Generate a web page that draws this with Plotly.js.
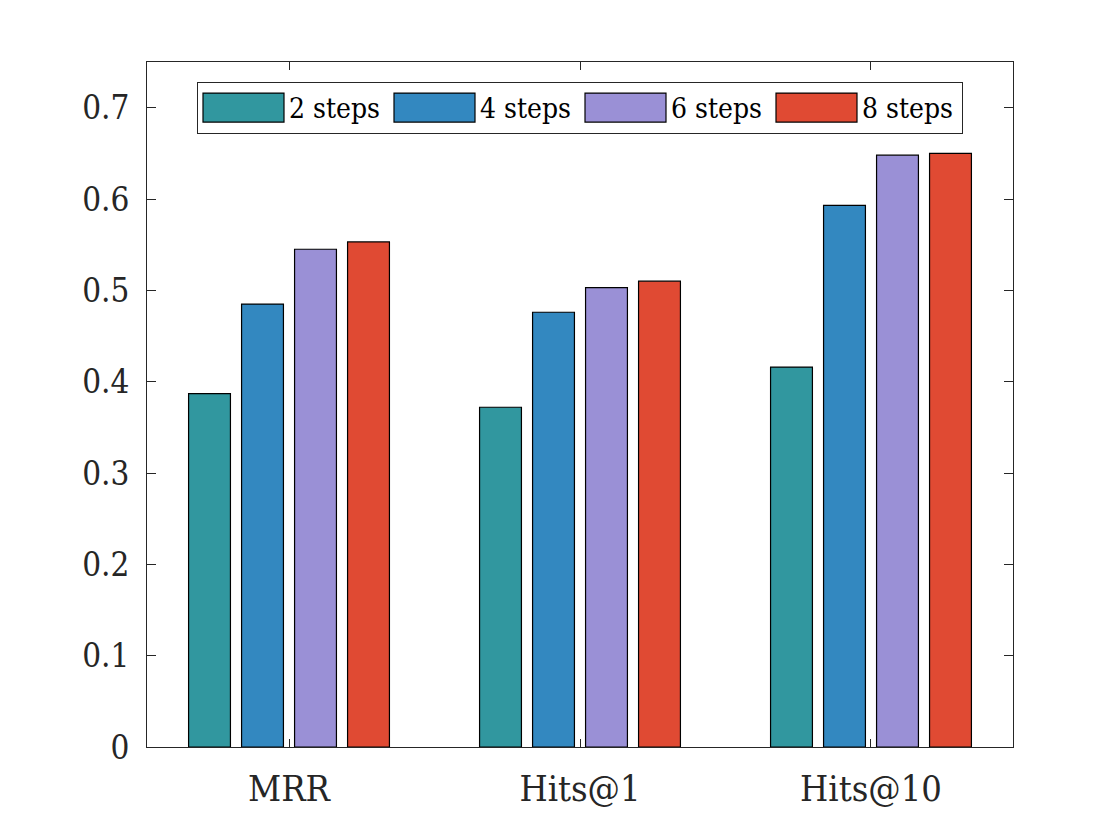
<!DOCTYPE html>
<html>
<head>
<meta charset="utf-8">
<script src="https://cdn.plot.ly/plotly-3.0.1.min.js"></script>
<style>html,body{margin:0;padding:0;background:#fff;}#chart{width:1120px;height:840px;}</style>
</head>
<body>
<div id="chart"></div>
<script>
const categories = ["MRR", "Hits@1", "Hits@10"];
const seriesNames = ["2 steps", "4 steps", "6 steps", "8 steps"];
const steps2 = [0.387, 0.372, 0.416];
const steps4 = [0.485, 0.476, 0.593];
const steps6 = [0.545, 0.503, 0.648];
const steps8 = [0.553, 0.510, 0.650];
const yTicks = [0, 0.1, 0.2, 0.3, 0.4, 0.5, 0.6, 0.7];
const yTickText = ["0", "0.1", "0.2", "0.3", "0.4", "0.5", "0.6", "0.7"];
const colors = ["#31979f", "#3388c0", "#9a90d6", "#e04a33"];

const allSeries = [steps2, steps4, steps6, steps8];
const traces = allSeries.map((vals, i) => ({
  type: "bar",
  name: seriesNames[i],
  x: categories,
  y: vals,
  marker: { color: colors[i], line: { color: "#000", width: 1.2 } },
  hoverinfo: "y+name"
}));

const serif = "DejaVu Serif Condensed";

const layout = {
  width: 1120, height: 840,
  margin: { l: 147, r: 107, t: 62, b: 93 },
  paper_bgcolor: "#fff", plot_bgcolor: "#fff",
  font: { family: serif },
  barmode: "group",
  bargap: 0.2715,
  bargroupgap: 0.21,
  showlegend: true,
  legend: {
    orientation: "h",
    x: 0.5, xanchor: "center",
    y: 0.971, yanchor: "top",
    bgcolor: "#fff",
    bordercolor: "#262626", borderwidth: 1,
    itemwidth: 81,
    entrywidth: 95, entrywidthmode: "pixels",
    font: { family: serif, size: 28, color: "#000" },
    traceorder: "normal"
  },
  xaxis: {
    type: "category",
    range: [-0.488, 2.488],
    showline: true, linecolor: "#262626", linewidth: 1, mirror: "ticks",
    ticks: "inside", ticklen: 8, tickcolor: "#262626", tickwidth: 1,
    tickfont: { family: serif, size: 36, color: "#262626" },
    ticklabelstandoff: 10,
    showgrid: false, zeroline: false
  },
  yaxis: {
    range: [0, 0.75],
    tickvals: yTicks, ticktext: yTickText,
    showline: true, linecolor: "#262626", linewidth: 1, mirror: "ticks",
    ticks: "inside", ticklen: 9, tickcolor: "#262626", tickwidth: 1,
    tickfont: { family: serif, size: 33, color: "#262626" },
    ticklabelstandoff: 10,
    showgrid: false, zeroline: false
  }
};

Plotly.newPlot("chart", traces, layout, { displayModeBar: false, staticPlot: true }).then(function () {
  // enlarge legend swatches to MATLAB-style wide rectangles
  document.querySelectorAll("#chart .legend .legendpoints path").forEach(function (p) {
    p.setAttribute("d", "M40.5,14.5H-40.5V-14.5H40.5Z");
  });
});
</script>
</body>
</html>
